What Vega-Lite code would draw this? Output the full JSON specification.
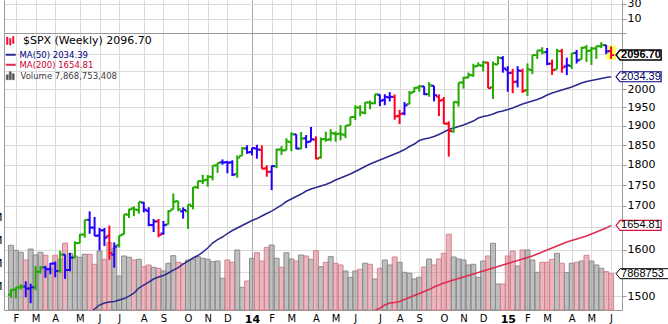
{
"$schema":"https://vega.github.io/schema/vega-lite/v6.json",
"width":618,"height":310,
"autosize":{"type":"none"},
"padding":{"left":4,"top":0,"right":46,"bottom":14},
"background":"white",
"config":{"view":{"stroke":null},"font":"DejaVu Sans"},
"data":{"values":[
{"d":"2013-01-28","o":1502.96,"h":1514.41,"l":1496.33,"c":1513.17,"k":"G","v":14.01,"vd":"up","m5":null,"m2":null},
{"d":"2013-02-04","o":1513.17,"h":1518.31,"l":1495.02,"c":1517.93,"k":"G","v":12.93,"vd":"up","m5":null,"m2":null},
{"d":"2013-02-11","o":1517.93,"h":1524.69,"l":1513.61,"c":1519.79,"k":"G","v":12.50,"vd":"up","m5":null,"m2":null},
{"d":"2013-02-18","o":1519.79,"h":1530.94,"l":1497.29,"c":1515.60,"k":"B","v":10.83,"vd":"down","m5":null,"m2":null},
{"d":"2013-02-25","o":1515.60,"h":1525.84,"l":1485.01,"c":1518.20,"k":"B","v":13.21,"vd":"up","m5":null,"m2":null},
{"d":"2013-03-04","o":1518.20,"h":1563.62,"l":1512.29,"c":1551.18,"k":"G","v":11.91,"vd":"up","m5":null,"m2":null},
{"d":"2013-03-11","o":1551.18,"h":1563.62,"l":1547.36,"c":1560.70,"k":"G","v":12.50,"vd":"up","m5":null,"m2":null},
{"d":"2013-03-18","o":1560.70,"h":1564.24,"l":1538.57,"c":1556.89,"k":"B","v":11.85,"vd":"down","m5":null,"m2":null},
{"d":"2013-03-25","o":1556.89,"h":1570.28,"l":1546.22,"c":1569.19,"k":"B","v":9.03,"vd":"up","m5":null,"m2":null},
{"d":"2013-04-01","o":1569.18,"h":1573.66,"l":1539.50,"c":1553.28,"k":"B","v":11.85,"vd":"down","m5":null,"m2":null},
{"d":"2013-04-08","o":1553.28,"h":1597.35,"l":1548.63,"c":1588.85,"k":"G","v":10.98,"vd":"up","m5":null,"m2":null},
{"d":"2013-04-15","o":1588.85,"h":1588.85,"l":1536.03,"c":1555.25,"k":"B","v":14.51,"vd":"down","m5":null,"m2":null},
{"d":"2013-04-22","o":1555.25,"h":1592.64,"l":1552.56,"c":1582.24,"k":"B","v":12.28,"vd":"up","m5":null,"m2":null},
{"d":"2013-04-29","o":1582.24,"h":1618.46,"l":1581.28,"c":1614.42,"k":"G","v":11.70,"vd":"up","m5":null,"m2":null},
{"d":"2013-05-06","o":1614.40,"h":1635.01,"l":1614.40,"c":1633.70,"k":"G","v":11.42,"vd":"up","m5":null,"m2":null},
{"d":"2013-05-13","o":1633.70,"h":1667.47,"l":1626.74,"c":1667.47,"k":"G","v":12.07,"vd":"up","m5":null,"m2":null},
{"d":"2013-05-20","o":1667.47,"h":1687.18,"l":1635.53,"c":1649.60,"k":"B","v":12.07,"vd":"down","m5":1465.0,"m2":null},
{"d":"2013-05-27","o":1649.60,"h":1674.21,"l":1630.74,"c":1630.74,"k":"B","v":9.90,"vd":"down","m5":1473.1,"m2":null},
{"d":"2013-06-03","o":1631.71,"h":1648.69,"l":1598.23,"c":1643.38,"k":"B","v":12.78,"vd":"up","m5":1481.3,"m2":null},
{"d":"2013-06-10","o":1643.38,"h":1648.69,"l":1608.07,"c":1626.73,"k":"B","v":10.98,"vd":"down","m5":1485.4,"m2":null},
{"d":"2013-06-17","o":1630.64,"h":1654.19,"l":1577.70,"c":1592.43,"k":"R","v":14.58,"vd":"down","m5":1487.5,"m2":null},
{"d":"2013-06-24","o":1588.77,"h":1615.94,"l":1560.33,"c":1606.28,"k":"B","v":13.36,"vd":"up","m5":1488.5,"m2":null},
{"d":"2013-07-01","o":1609.78,"h":1631.89,"l":1604.57,"c":1631.89,"k":"G","v":7.36,"vd":"up","m5":1491.6,"m2":null},
{"d":"2013-07-08","o":1634.20,"h":1680.19,"l":1634.20,"c":1680.19,"k":"G","v":11.70,"vd":"up","m5":1494.7,"m2":null},
{"d":"2013-07-15","o":1679.59,"h":1693.12,"l":1671.84,"c":1692.09,"k":"G","v":11.42,"vd":"up","m5":1499.9,"m2":null},
{"d":"2013-07-22","o":1694.41,"h":1698.78,"l":1676.03,"c":1691.65,"k":"G","v":10.83,"vd":"down","m5":1506.2,"m2":null},
{"d":"2013-07-29","o":1690.32,"h":1709.67,"l":1681.86,"c":1709.67,"k":"G","v":10.98,"vd":"up","m5":1516.7,"m2":null},
{"d":"2013-08-05","o":1708.01,"h":1709.24,"l":1684.91,"c":1691.42,"k":"B","v":9.38,"vd":"down","m5":1523.0,"m2":null},
{"d":"2013-08-12","o":1688.37,"h":1696.81,"l":1652.61,"c":1655.83,"k":"B","v":9.75,"vd":"down","m5":1529.4,"m2":null},
{"d":"2013-08-19","o":1655.25,"h":1669.51,"l":1639.43,"c":1663.50,"k":"B","v":9.25,"vd":"up","m5":1535.8,"m2":null},
{"d":"2013-08-26","o":1664.29,"h":1669.51,"l":1627.47,"c":1632.97,"k":"R","v":9.03,"vd":"down","m5":1540.1,"m2":null},
{"d":"2013-09-02","o":1635.95,"h":1664.83,"l":1633.41,"c":1655.17,"k":"B","v":8.45,"vd":"up","m5":1543.3,"m2":null},
{"d":"2013-09-09","o":1656.85,"h":1689.97,"l":1656.85,"c":1687.99,"k":"G","v":10.12,"vd":"up","m5":1548.7,"m2":null},
{"d":"2013-09-16","o":1691.70,"h":1729.86,"l":1691.70,"c":1709.91,"k":"G","v":11.76,"vd":"up","m5":1555.1,"m2":null},
{"d":"2013-09-23","o":1711.44,"h":1711.44,"l":1687.11,"c":1691.75,"k":"G","v":10.33,"vd":"down","m5":1560.5,"m2":null},
{"d":"2013-09-30","o":1687.26,"h":1696.55,"l":1670.36,"c":1690.50,"k":"B","v":10.12,"vd":"down","m5":1568.2,"m2":null},
{"d":"2013-10-07","o":1687.15,"h":1703.44,"l":1646.47,"c":1703.20,"k":"G","v":10.83,"vd":"up","m5":1574.7,"m2":null},
{"d":"2013-10-14","o":1699.86,"h":1745.31,"l":1692.13,"c":1744.50,"k":"G","v":10.98,"vd":"up","m5":1581.3,"m2":null},
{"d":"2013-10-21","o":1745.20,"h":1759.82,"l":1740.50,"c":1759.77,"k":"G","v":11.55,"vd":"up","m5":1586.8,"m2":null},
{"d":"2013-10-28","o":1759.42,"h":1775.22,"l":1752.70,"c":1761.64,"k":"G","v":11.20,"vd":"up","m5":1594.5,"m2":null},
{"d":"2013-11-04","o":1762.97,"h":1774.54,"l":1746.20,"c":1770.61,"k":"G","v":10.98,"vd":"up","m5":1603.4,"m2":null},
{"d":"2013-11-11","o":1769.96,"h":1798.22,"l":1761.56,"c":1798.18,"k":"G","v":10.46,"vd":"up","m5":1614.6,"m2":null},
{"d":"2013-11-18","o":1798.82,"h":1804.84,"l":1780.02,"c":1804.76,"k":"G","v":10.61,"vd":"up","m5":1622.5,"m2":null},
{"d":"2013-11-25","o":1806.33,"h":1813.55,"l":1800.32,"c":1805.81,"k":"B","v":6.87,"vd":"up","m5":1628.1,"m2":null},
{"d":"2013-12-02","o":1806.55,"h":1810.02,"l":1779.09,"c":1805.09,"k":"B","v":10.83,"vd":"down","m5":1636.1,"m2":null},
{"d":"2013-12-09","o":1806.21,"h":1811.52,"l":1772.28,"c":1775.32,"k":"B","v":10.33,"vd":"down","m5":1642.9,"m2":null},
{"d":"2013-12-16","o":1777.48,"h":1823.75,"l":1767.99,"c":1818.32,"k":"G","v":13.00,"vd":"up","m5":1648.6,"m2":null},
{"d":"2013-12-23","o":1822.92,"h":1844.89,"l":1822.92,"c":1841.40,"k":"G","v":4.92,"vd":"up","m5":1654.4,"m2":null},
{"d":"2013-12-30","o":1841.47,"h":1849.44,"l":1827.74,"c":1831.37,"k":"B","v":6.28,"vd":"down","m5":1660.1,"m2":null},
{"d":"2014-01-06","o":1832.31,"h":1843.23,"l":1823.73,"c":1842.37,"k":"B","v":11.20,"vd":"up","m5":1665.9,"m2":null},
{"d":"2014-01-13","o":1841.26,"h":1850.84,"l":1815.52,"c":1838.70,"k":"B","v":12.41,"vd":"down","m5":1670.5,"m2":null},
{"d":"2014-01-20","o":1837.92,"h":1849.31,"l":1790.29,"c":1790.29,"k":"R","v":10.61,"vd":"down","m5":1676.4,"m2":null},
{"d":"2014-01-27","o":1791.03,"h":1798.77,"l":1770.45,"c":1782.59,"k":"R","v":13.58,"vd":"down","m5":1682.2,"m2":null},
{"d":"2014-02-03","o":1782.68,"h":1798.03,"l":1737.92,"c":1797.02,"k":"B","v":14.08,"vd":"up","m5":1688.0,"m2":null},
{"d":"2014-02-10","o":1796.20,"h":1840.76,"l":1791.65,"c":1838.63,"k":"G","v":11.20,"vd":"up","m5":1695.1,"m2":null},
{"d":"2014-02-17","o":1838.76,"h":1847.50,"l":1824.58,"c":1836.25,"k":"G","v":9.25,"vd":"down","m5":1702.2,"m2":null},
{"d":"2014-02-24","o":1836.78,"h":1867.92,"l":1836.78,"c":1859.45,"k":"G","v":12.41,"vd":"up","m5":1710.5,"m2":null},
{"d":"2014-03-03","o":1857.68,"h":1883.57,"l":1834.44,"c":1878.04,"k":"G","v":11.05,"vd":"up","m5":1716.4,"m2":null},
{"d":"2014-03-10","o":1877.86,"h":1877.87,"l":1839.57,"c":1841.13,"k":"B","v":10.61,"vd":"down","m5":1722.4,"m2":null},
{"d":"2014-03-17","o":1841.07,"h":1883.97,"l":1839.49,"c":1866.52,"k":"G","v":11.91,"vd":"up","m5":1728.4,"m2":null},
{"d":"2014-03-24","o":1867.67,"h":1875.92,"l":1842.11,"c":1857.62,"k":"B","v":11.70,"vd":"down","m5":1735.6,"m2":null},
{"d":"2014-03-31","o":1859.16,"h":1897.28,"l":1859.16,"c":1865.09,"k":"B","v":10.98,"vd":"up","m5":1740.5,"m2":null},
{"d":"2014-04-07","o":1863.92,"h":1872.53,"l":1814.36,"c":1815.69,"k":"R","v":12.85,"vd":"down","m5":1744.1,"m2":null},
{"d":"2014-04-14","o":1818.18,"h":1869.63,"l":1815.80,"c":1864.85,"k":"G","v":9.38,"vd":"up","m5":1747.7,"m2":null},
{"d":"2014-04-21","o":1865.79,"h":1884.89,"l":1858.71,"c":1863.40,"k":"G","v":10.33,"vd":"down","m5":1751.4,"m2":null},
{"d":"2014-04-28","o":1865.00,"h":1891.33,"l":1859.79,"c":1881.14,"k":"G","v":11.55,"vd":"up","m5":1756.3,"m2":null},
{"d":"2014-05-05","o":1879.45,"h":1885.51,"l":1859.02,"c":1878.48,"k":"G","v":10.12,"vd":"down","m5":1762.4,"m2":null},
{"d":"2014-05-12","o":1880.03,"h":1902.17,"l":1862.36,"c":1877.86,"k":"G","v":9.75,"vd":"down","m5":1767.3,"m2":null},
{"d":"2014-05-19","o":1876.66,"h":1901.26,"l":1868.14,"c":1900.53,"k":"G","v":8.45,"vd":"up","m5":1772.2,"m2":null},
{"d":"2014-05-26","o":1902.01,"h":1924.03,"l":1902.01,"c":1923.57,"k":"G","v":7.08,"vd":"up","m5":1777.1,"m2":null},
{"d":"2014-06-02","o":1923.87,"h":1955.55,"l":1915.98,"c":1949.44,"k":"G","v":8.45,"vd":"up","m5":1783.3,"m2":null},
{"d":"2014-06-09","o":1948.97,"h":1955.59,"l":1925.78,"c":1936.16,"k":"G","v":8.82,"vd":"down","m5":1789.5,"m2":null},
{"d":"2014-06-16","o":1934.84,"h":1963.91,"l":1930.91,"c":1962.87,"k":"G","v":10.12,"vd":"up","m5":1795.8,"m2":null},
{"d":"2014-06-23","o":1962.92,"h":1968.17,"l":1944.69,"c":1960.96,"k":"G","v":9.90,"vd":"down","m5":1802.0,"m2":null},
{"d":"2014-06-30","o":1960.79,"h":1985.59,"l":1958.22,"c":1985.44,"k":"G","v":6.71,"vd":"up","m5":1807.0,"m2":1470.0},
{"d":"2014-07-07","o":1984.22,"h":1984.22,"l":1952.86,"c":1967.57,"k":"B","v":9.03,"vd":"down","m5":1812.1,"m2":1475.1},
{"d":"2014-07-14","o":1969.86,"h":1985.59,"l":1955.59,"c":1978.22,"k":"B","v":10.83,"vd":"up","m5":1817.1,"m2":1481.3},
{"d":"2014-07-21","o":1976.93,"h":1991.39,"l":1965.77,"c":1978.34,"k":"B","v":9.75,"vd":"up","m5":1822.2,"m2":1485.4},
{"d":"2014-07-28","o":1978.25,"h":1984.85,"l":1916.37,"c":1925.15,"k":"R","v":11.48,"vd":"down","m5":1827.2,"m2":1486.4},
{"d":"2014-08-04","o":1926.62,"h":1942.92,"l":1904.78,"c":1931.59,"k":"R","v":10.33,"vd":"up","m5":1832.3,"m2":1488.5},
{"d":"2014-08-11","o":1933.43,"h":1964.04,"l":1928.29,"c":1955.06,"k":"B","v":8.17,"vd":"up","m5":1838.7,"m2":1492.6},
{"d":"2014-08-18","o":1958.36,"h":1994.76,"l":1958.36,"c":1988.40,"k":"G","v":7.95,"vd":"up","m5":1846.4,"m2":1496.8},
{"d":"2014-08-25","o":1991.74,"h":2005.04,"l":1990.52,"c":2003.37,"k":"G","v":6.71,"vd":"up","m5":1852.8,"m2":1501.0},
{"d":"2014-09-01","o":2004.07,"h":2011.17,"l":1992.44,"c":2007.71,"k":"G","v":7.08,"vd":"up","m5":1861.8,"m2":1505.2},
{"d":"2014-09-08","o":2007.17,"h":2007.71,"l":1983.54,"c":1985.54,"k":"B","v":9.31,"vd":"down","m5":1865.7,"m2":1509.4},
{"d":"2014-09-15","o":1986.04,"h":2019.26,"l":1978.48,"c":2010.40,"k":"G","v":11.05,"vd":"up","m5":1868.3,"m2":1513.5},
{"d":"2014-09-22","o":2009.08,"h":2009.08,"l":1965.99,"c":1982.85,"k":"B","v":9.75,"vd":"down","m5":1872.2,"m2":1518.8},
{"d":"2014-09-29","o":1978.96,"h":1985.17,"l":1926.03,"c":1967.90,"k":"R","v":11.05,"vd":"down","m5":1877.4,"m2":1523.0},
{"d":"2014-10-06","o":1970.01,"h":1977.84,"l":1905.03,"c":1906.13,"k":"R","v":12.28,"vd":"down","m5":1884.0,"m2":1527.3},
{"d":"2014-10-13","o":1905.65,"h":1912.09,"l":1820.66,"c":1886.76,"k":"R","v":16.40,"vd":"down","m5":1890.5,"m2":1530.5},
{"d":"2014-10-20","o":1885.62,"h":1965.27,"l":1882.30,"c":1964.58,"k":"G","v":11.48,"vd":"up","m5":1894.5,"m2":1533.7},
{"d":"2014-10-27","o":1962.97,"h":2018.19,"l":1951.37,"c":2018.05,"k":"G","v":11.05,"vd":"up","m5":1898.4,"m2":1536.9},
{"d":"2014-11-03","o":2018.21,"h":2034.26,"l":2001.01,"c":2031.92,"k":"G","v":10.83,"vd":"up","m5":1902.4,"m2":1540.1},
{"d":"2014-11-10","o":2032.01,"h":2046.18,"l":2030.44,"c":2039.82,"k":"G","v":9.75,"vd":"up","m5":1907.7,"m2":1543.3},
{"d":"2014-11-17","o":2038.29,"h":2071.46,"l":2034.46,"c":2063.50,"k":"G","v":9.90,"vd":"up","m5":1913.0,"m2":1546.5},
{"d":"2014-11-24","o":2065.07,"h":2075.76,"l":2064.75,"c":2067.56,"k":"G","v":7.08,"vd":"up","m5":1921.0,"m2":1549.7},
{"d":"2014-12-01","o":2065.78,"h":2079.47,"l":2049.57,"c":2075.37,"k":"G","v":10.61,"vd":"up","m5":1925.0,"m2":1553.0},
{"d":"2014-12-08","o":2074.84,"h":2075.78,"l":2002.33,"c":2002.33,"k":"R","v":11.70,"vd":"down","m5":1927.7,"m2":1556.2},
{"d":"2014-12-15","o":2005.03,"h":2077.85,"l":1972.56,"c":2070.65,"k":"G","v":14.45,"vd":"up","m5":1931.7,"m2":1559.5},
{"d":"2014-12-22","o":2069.46,"h":2093.55,"l":2069.46,"c":2088.77,"k":"G","v":5.63,"vd":"up","m5":1937.1,"m2":1562.7},
{"d":"2014-12-29","o":2087.63,"h":2093.55,"l":2046.04,"c":2058.20,"k":"B","v":5.63,"vd":"down","m5":1939.8,"m2":1566.0},
{"d":"2015-01-05","o":2054.44,"h":2064.43,"l":1992.44,"c":2044.81,"k":"B","v":11.70,"vd":"down","m5":1943.8,"m2":1569.2},
{"d":"2015-01-12","o":2046.13,"h":2056.93,"l":1988.12,"c":2019.42,"k":"R","v":12.78,"vd":"down","m5":1947.9,"m2":1572.5},
{"d":"2015-01-19","o":2020.76,"h":2064.62,"l":2004.49,"c":2051.82,"k":"B","v":9.53,"vd":"up","m5":1953.3,"m2":1575.8},
{"d":"2015-01-26","o":2050.42,"h":2057.62,"l":1989.18,"c":1994.99,"k":"R","v":13.00,"vd":"down","m5":1958.7,"m2":1579.1},
{"d":"2015-02-02","o":1996.67,"h":2072.40,"l":1980.90,"c":2055.47,"k":"G","v":13.00,"vd":"up","m5":1962.8,"m2":1582.4},
{"d":"2015-02-09","o":2053.47,"h":2097.03,"l":2041.88,"c":2096.99,"k":"G","v":10.83,"vd":"up","m5":1966.9,"m2":1585.7},
{"d":"2015-02-16","o":2096.47,"h":2110.61,"l":2085.44,"c":2110.30,"k":"G","v":8.17,"vd":"up","m5":1971.0,"m2":1590.1},
{"d":"2015-02-23","o":2109.83,"h":2119.59,"l":2098.69,"c":2104.50,"k":"G","v":10.33,"vd":"down","m5":1976.5,"m2":1594.5},
{"d":"2015-03-02","o":2105.23,"h":2117.52,"l":2067.27,"c":2071.26,"k":"B","v":10.33,"vd":"down","m5":1983.4,"m2":1599.0},
{"d":"2015-03-09","o":2072.25,"h":2083.49,"l":2039.69,"c":2053.40,"k":"R","v":10.98,"vd":"down","m5":1988.9,"m2":1603.4},
{"d":"2015-03-16","o":2055.35,"h":2114.86,"l":2055.35,"c":2108.10,"k":"G","v":12.28,"vd":"up","m5":1993.1,"m2":1607.9},
{"d":"2015-03-23","o":2107.99,"h":2114.86,"l":2045.79,"c":2061.02,"k":"R","v":10.12,"vd":"down","m5":1997.2,"m2":1612.4},
{"d":"2015-03-30","o":2064.11,"h":2088.97,"l":2039.12,"c":2066.96,"k":"B","v":8.08,"vd":"up","m5":2001.4,"m2":1616.9},
{"d":"2015-04-06","o":2064.87,"h":2102.61,"l":2056.76,"c":2102.06,"k":"G","v":10.12,"vd":"up","m5":2005.6,"m2":1620.2},
{"d":"2015-04-13","o":2102.94,"h":2111.91,"l":2072.17,"c":2081.18,"k":"B","v":10.33,"vd":"down","m5":2011.2,"m2":1623.6},
{"d":"2015-04-20","o":2084.11,"h":2120.92,"l":2084.11,"c":2117.69,"k":"G","v":10.61,"vd":"up","m5":2016.7,"m2":1627.0},
{"d":"2015-04-27","o":2119.29,"h":2125.92,"l":2077.00,"c":2108.29,"k":"G","v":11.85,"vd":"down","m5":2021.0,"m2":1630.4},
{"d":"2015-05-04","o":2110.23,"h":2120.95,"l":2067.93,"c":2116.10,"k":"G","v":10.61,"vd":"up","m5":2023.8,"m2":1635.0},
{"d":"2015-05-11","o":2115.56,"h":2123.89,"l":2085.65,"c":2122.73,"k":"G","v":9.75,"vd":"up","m5":2026.6,"m2":1639.5},
{"d":"2015-05-18","o":2122.27,"h":2134.72,"l":2117.00,"c":2126.06,"k":"G","v":9.03,"vd":"up","m5":2029.4,"m2":1644.1},
{"d":"2015-05-25","o":2125.34,"h":2126.22,"l":2099.18,"c":2107.39,"k":"B","v":8.30,"vd":"down","m5":2032.2,"m2":1648.6},
{"d":"2015-06-01","o":2108.64,"h":2121.92,"l":2085.67,"c":2096.70,"k":"R","v":7.8688,"vd":"down","m5":2034.39,"m2":1654.81}
]},
"encoding":{"x":{"field":"d","type":"temporal",
  "scale":{"type":"utc","domain":[{"year":2013,"month":1,"date":25,"hours":5,"utc":true},{"year":2015,"month":6,"date":9,"hours":10,"utc":true}]},
  "axis":{"orient":"bottom","title":null,"ticks":false,"domain":true,"domainColor":"#999999","labelPadding":3,"labelOverlap":false,"labelFlush":false,
    "values":[{"year":2013,"month":2,"date":4,"utc":true},{"year":2013,"month":3,"date":4,"utc":true},{"year":2013,"month":4,"date":1,"utc":true},{"year":2013,"month":5,"date":6,"utc":true},{"year":2013,"month":6,"date":3,"utc":true},{"year":2013,"month":7,"date":1,"utc":true},{"year":2013,"month":8,"date":5,"utc":true},{"year":2013,"month":9,"date":2,"utc":true},{"year":2013,"month":10,"date":7,"utc":true},{"year":2013,"month":11,"date":4,"utc":true},{"year":2013,"month":12,"date":2,"utc":true},
      {"year":2014,"month":1,"date":6,"utc":true},{"year":2014,"month":2,"date":3,"utc":true},{"year":2014,"month":3,"date":3,"utc":true},{"year":2014,"month":4,"date":7,"utc":true},{"year":2014,"month":5,"date":5,"utc":true},{"year":2014,"month":6,"date":2,"utc":true},{"year":2014,"month":7,"date":7,"utc":true},{"year":2014,"month":8,"date":4,"utc":true},{"year":2014,"month":9,"date":1,"utc":true},{"year":2014,"month":10,"date":6,"utc":true},{"year":2014,"month":11,"date":3,"utc":true},{"year":2014,"month":12,"date":1,"utc":true},
      {"year":2015,"month":1,"date":5,"utc":true},{"year":2015,"month":2,"date":2,"utc":true},{"year":2015,"month":3,"date":2,"utc":true},{"year":2015,"month":4,"date":6,"utc":true},{"year":2015,"month":5,"date":4,"utc":true},{"year":2015,"month":6,"date":1,"utc":true}],
    "labelExpr":"utcmonth(datum.value) == 0 ? utcFormat(datum.value, '%y') : substring(utcFormat(datum.value, '%b'), 0, 1)",
    "labelFontWeight":{"condition":{"test":"utcmonth(datum.value) == 0","value":"bold"},"value":"normal"},
    "labelFontSize":{"condition":{"test":"utcmonth(datum.value) == 0","value":11},"value":10},
    "labelColor":"#000000","labelFont":"DejaVu Sans",
    "grid":true,"gridColor":{"condition":{"test":"utcmonth(datum.value) == 0","value":"#a8a8a8"},"value":"#dadada"}}}},
"layer":[
 {"layer":[
   {"mark":{"type":"bar","width":5,"fillOpacity":0.5,"strokeWidth":1},
    "encoding":{
     "y":{"field":"v","type":"quantitative","scale":{"domain":[0,67.148],"nice":false,"zero":true},
       "axis":{"orient":"left","title":null,"values":[5,10,15,20],"grid":false,"ticks":false,"domain":true,"domainColor":"#999999","labelPadding":2,"labelFontSize":11,"labelColor":"#000000","labelExpr":"datum.value + 'M'"}},
     "fill":{"field":"vd","type":"nominal","scale":{"domain":["up","down"],"range":["#7f7f7f","#d8707f"]},"legend":null},
     "stroke":{"field":"vd","type":"nominal","scale":{"domain":["up","down"],"range":["#8c8c8c","#d4838f"]},"legend":null}}},
   {"transform":[{"filter":"utcyear(datum.d) == 2015 && utcmonth(datum.d) == 5"}],
    "mark":{"type":"point","shape":"M1,0L1.8,-1L12,-1L12,1L1.8,1Z","size":100,"filled":true,"fill":"#ffffff","stroke":"#000000","strokeWidth":1,"opacity":1},
    "encoding":{"y":{"field":"v","type":"quantitative","scale":{"domain":[0,67.148],"nice":false,"zero":true},
       "axis":{"orient":"left","title":null,"values":[5,10,15,20],"grid":false,"ticks":false,"domain":true,"domainColor":"#999999","labelPadding":2,"labelFontSize":11,"labelColor":"#000000","labelExpr":"datum.value + 'M'"}}}},
   {"transform":[{"filter":"utcyear(datum.d) == 2015 && utcmonth(datum.d) == 5"}],
    "mark":{"type":"text","text":"7868753","dx":10,"align":"left","baseline":"middle","font":"Liberation Sans","fontSize":11,"color":"#000000"},
    "encoding":{"y":{"field":"v","type":"quantitative","scale":{"domain":[0,67.148],"nice":false,"zero":true},
       "axis":{"orient":"left","title":null,"values":[5,10,15,20],"grid":false,"ticks":false,"domain":true,"domainColor":"#999999","labelPadding":2,"labelFontSize":11,"labelColor":"#000000","labelExpr":"datum.value + 'M'"}}}}
 ]},
 {"layer":[
   {"transform":[{"filter":"utcyear(datum.d) == 2015 && utcmonth(datum.d) == 5"}],
    "mark":{"type":"bar","width":8,"color":"#ffff66","stroke":"#ffff66","strokeWidth":2},
    "encoding":{"y":{"field":"h","type":"quantitative","scale":{"type":"log","domain":[1471.1,2263.4],"nice":false,"zero":false},
       "axis":{"orient":"right","title":null,"values":[1500,1550,1600,1650,1700,1750,1800,1850,1900,1950,2000,2050,2100],"format":"d","labelExpr":"indexof([1550,1650,2050,2100], datum.value) >= 0 ? '' : datum.label","grid":true,"gridColor":"#dadada","domain":true,"domainColor":"#999999","tickSize":4,"tickColor":"#999999","labelPadding":1,"labelFont":"DejaVu Sans","labelFontSize":11,"labelColor":"#000000"}},
     "y2":{"field":"l"}}},
   {"transform":[{"fold":["m5","m2"],"as":["key","val"]}],
    "mark":{"type":"line","strokeWidth":1.5,"clip":true},
    "encoding":{"y":{"field":"val","type":"quantitative","scale":{"type":"log","domain":[1471.1,2263.4],"nice":false,"zero":false},
       "axis":{"orient":"right","title":null,"values":[1500,1550,1600,1650,1700,1750,1800,1850,1900,1950,2000,2050,2100],"format":"d","labelExpr":"indexof([1550,1650,2050,2100], datum.value) >= 0 ? '' : datum.label","grid":true,"gridColor":"#dadada","domain":true,"domainColor":"#999999","tickSize":4,"tickColor":"#999999","labelPadding":1,"labelFont":"DejaVu Sans","labelFontSize":11,"labelColor":"#000000"}},
     "color":{"field":"key","type":"nominal","scale":{"domain":["px","m5","m2","vol"],"range":["#ee1133","#2b2b8c","#e0294f","#555555"]},
       "legend":{"orient":"none","legendX":2.5,"legendY":36.5,"title":null,"padding":0,"offset":0,"rowPadding":1,"labelOffset":4.5,"symbolSize":100,"symbolStrokeWidth":2,"symbolType":"stroke","labelFont":"DejaVu Sans","labelFontSize":8.5,"labelLimit":400,
        "labelExpr":"datum.label == 'px' ? '$SPX (Weekly) 2096.70' : datum.label == 'm5' ? 'MA(50) 2034.39' : datum.label == 'm2' ? 'MA(200) 1654.81' : 'Volume 7,868,753,408'",
        "encode":{
          "labels":{"update":{"fill":{"signal":"datum.index == 0 ? '#000000' : datum.index == 1 ? '#000080' : datum.index == 2 ? '#cc0033' : '#404040'"},"fontSize":{"signal":"datum.index == 0 ? 11 : 8.5"},"dx":{"signal":"datum.index == 0 ? 3.4 : datum.index == 3 ? 1 : 0"}}},
          "symbols":{"update":{"shape":{"signal":"datum.index == 0 ? 'M-0.7,-0.8L-0.7,0.8M-0.1,-0.5L-0.1,0.9M0.5,-0.9L0.5,0.6' : datum.index == 3 ? 'M-0.9,0.8L-0.9,-0.2L-0.5,-0.2L-0.5,0.8ZM-0.3,0.8L-0.3,-0.8L0.1,-0.8L0.1,0.8ZM0.3,0.8L0.3,-0.4L0.7,-0.4L0.7,0.8Z' : 'stroke'"},"fill":{"signal":"datum.index == 3 ? '#555555' : 'transparent'"},"strokeWidth":{"signal":"datum.index == 3 ? 0.5 : 2"}}}
        }}}}},
   {"mark":{"type":"rule","strokeWidth":2},
    "encoding":{"y":{"field":"l","type":"quantitative","scale":{"type":"log","domain":[1471.1,2263.4],"nice":false,"zero":false},
       "axis":{"orient":"right","title":null,"values":[1500,1550,1600,1650,1700,1750,1800,1850,1900,1950,2000,2050,2100],"format":"d","labelExpr":"indexof([1550,1650,2050,2100], datum.value) >= 0 ? '' : datum.label","grid":true,"gridColor":"#dadada","domain":true,"domainColor":"#999999","tickSize":4,"tickColor":"#999999","labelPadding":1,"labelFont":"DejaVu Sans","labelFontSize":11,"labelColor":"#000000"}},
     "y2":{"field":"h"},
     "stroke":{"field":"k","type":"nominal","scale":{"domain":["G","B","R"],"range":["#22aa00","#2200ff","#ff0022"]},"legend":null}}},
   {"mark":{"type":"point","shape":"M-1,0L0,0","size":36,"filled":false,"strokeWidth":2,"opacity":1},
    "encoding":{"y":{"field":"o","type":"quantitative","scale":{"type":"log","domain":[1471.1,2263.4],"nice":false,"zero":false},
       "axis":{"orient":"right","title":null,"values":[1500,1550,1600,1650,1700,1750,1800,1850,1900,1950,2000,2050,2100],"format":"d","labelExpr":"indexof([1550,1650,2050,2100], datum.value) >= 0 ? '' : datum.label","grid":true,"gridColor":"#dadada","domain":true,"domainColor":"#999999","tickSize":4,"tickColor":"#999999","labelPadding":1,"labelFont":"DejaVu Sans","labelFontSize":11,"labelColor":"#000000"}},
     "stroke":{"field":"k","type":"nominal","scale":{"domain":["G","B","R"],"range":["#22aa00","#2200ff","#ff0022"]},"legend":null}}},
   {"mark":{"type":"point","shape":"M0,0L1,0","size":36,"filled":false,"strokeWidth":2,"opacity":1},
    "encoding":{"y":{"field":"c","type":"quantitative","scale":{"type":"log","domain":[1471.1,2263.4],"nice":false,"zero":false},
       "axis":{"orient":"right","title":null,"values":[1500,1550,1600,1650,1700,1750,1800,1850,1900,1950,2000,2050,2100],"format":"d","labelExpr":"indexof([1550,1650,2050,2100], datum.value) >= 0 ? '' : datum.label","grid":true,"gridColor":"#dadada","domain":true,"domainColor":"#999999","tickSize":4,"tickColor":"#999999","labelPadding":1,"labelFont":"DejaVu Sans","labelFontSize":11,"labelColor":"#000000"}},
     "stroke":{"field":"k","type":"nominal","scale":{"domain":["G","B","R"],"range":["#22aa00","#2200ff","#ff0022"]},"legend":null}}},
   {"transform":[{"filter":"utcyear(datum.d) == 2015 && utcmonth(datum.d) == 5"}],
    "mark":{"type":"point","shape":"M1,0L1.8,-1L10,-1L10,1L1.8,1Z","size":100,"filled":true,"fill":"#ffffff","stroke":"#000000","strokeWidth":1.5,"opacity":1},
    "encoding":{"y":{"field":"c","type":"quantitative","scale":{"type":"log","domain":[1471.1,2263.4],"nice":false,"zero":false},
       "axis":{"orient":"right","title":null,"values":[1500,1550,1600,1650,1700,1750,1800,1850,1900,1950,2000,2050,2100],"format":"d","labelExpr":"indexof([1550,1650,2050,2100], datum.value) >= 0 ? '' : datum.label","grid":true,"gridColor":"#dadada","domain":true,"domainColor":"#999999","tickSize":4,"tickColor":"#999999","labelPadding":1,"labelFont":"DejaVu Sans","labelFontSize":11,"labelColor":"#000000"}}}},
   {"transform":[{"filter":"utcyear(datum.d) == 2015 && utcmonth(datum.d) == 5"}],
    "mark":{"type":"text","dx":10,"align":"left","baseline":"middle","font":"Liberation Sans","fontSize":11,"fontWeight":"bold","color":"#000000"},
    "encoding":{"y":{"field":"c","type":"quantitative","scale":{"type":"log","domain":[1471.1,2263.4],"nice":false,"zero":false},
       "axis":{"orient":"right","title":null,"values":[1500,1550,1600,1650,1700,1750,1800,1850,1900,1950,2000,2050,2100],"format":"d","labelExpr":"indexof([1550,1650,2050,2100], datum.value) >= 0 ? '' : datum.label","grid":true,"gridColor":"#dadada","domain":true,"domainColor":"#999999","tickSize":4,"tickColor":"#999999","labelPadding":1,"labelFont":"DejaVu Sans","labelFontSize":11,"labelColor":"#000000"}},"text":{"field":"c","type":"quantitative","format":".2f"}}},
   {"transform":[{"filter":"utcyear(datum.d) == 2015 && utcmonth(datum.d) == 5"}],
    "mark":{"type":"point","shape":"M1,0L1.8,-1L10,-1L10,1L1.8,1Z","size":100,"filled":true,"fill":"#ffffff","stroke":"#000080","strokeWidth":1.2,"opacity":1},
    "encoding":{"y":{"field":"m5","type":"quantitative","scale":{"type":"log","domain":[1471.1,2263.4],"nice":false,"zero":false},
       "axis":{"orient":"right","title":null,"values":[1500,1550,1600,1650,1700,1750,1800,1850,1900,1950,2000,2050,2100],"format":"d","labelExpr":"indexof([1550,1650,2050,2100], datum.value) >= 0 ? '' : datum.label","grid":true,"gridColor":"#dadada","domain":true,"domainColor":"#999999","tickSize":4,"tickColor":"#999999","labelPadding":1,"labelFont":"DejaVu Sans","labelFontSize":11,"labelColor":"#000000"}}}},
   {"transform":[{"filter":"utcyear(datum.d) == 2015 && utcmonth(datum.d) == 5"}],
    "mark":{"type":"text","dx":10,"align":"left","baseline":"middle","font":"Liberation Sans","fontSize":11,"color":"#000060"},
    "encoding":{"y":{"field":"m5","type":"quantitative","scale":{"type":"log","domain":[1471.1,2263.4],"nice":false,"zero":false},
       "axis":{"orient":"right","title":null,"values":[1500,1550,1600,1650,1700,1750,1800,1850,1900,1950,2000,2050,2100],"format":"d","labelExpr":"indexof([1550,1650,2050,2100], datum.value) >= 0 ? '' : datum.label","grid":true,"gridColor":"#dadada","domain":true,"domainColor":"#999999","tickSize":4,"tickColor":"#999999","labelPadding":1,"labelFont":"DejaVu Sans","labelFontSize":11,"labelColor":"#000000"}},"text":{"field":"m5","type":"quantitative","format":".2f"}}},
   {"transform":[{"filter":"utcyear(datum.d) == 2015 && utcmonth(datum.d) == 5"}],
    "mark":{"type":"point","shape":"M1,0L1.8,-1L10,-1L10,1L1.8,1Z","size":100,"filled":true,"fill":"#ffffff","stroke":"#dd1144","strokeWidth":1.2,"opacity":1},
    "encoding":{"y":{"field":"m2","type":"quantitative","scale":{"type":"log","domain":[1471.1,2263.4],"nice":false,"zero":false},
       "axis":{"orient":"right","title":null,"values":[1500,1550,1600,1650,1700,1750,1800,1850,1900,1950,2000,2050,2100],"format":"d","labelExpr":"indexof([1550,1650,2050,2100], datum.value) >= 0 ? '' : datum.label","grid":true,"gridColor":"#dadada","domain":true,"domainColor":"#999999","tickSize":4,"tickColor":"#999999","labelPadding":1,"labelFont":"DejaVu Sans","labelFontSize":11,"labelColor":"#000000"}}}},
   {"transform":[{"filter":"utcyear(datum.d) == 2015 && utcmonth(datum.d) == 5"}],
    "mark":{"type":"text","dx":10,"align":"left","baseline":"middle","font":"Liberation Sans","fontSize":11,"color":"#000000"},
    "encoding":{"y":{"field":"m2","type":"quantitative","scale":{"type":"log","domain":[1471.1,2263.4],"nice":false,"zero":false},
       "axis":{"orient":"right","title":null,"values":[1500,1550,1600,1650,1700,1750,1800,1850,1900,1950,2000,2050,2100],"format":"d","labelExpr":"indexof([1550,1650,2050,2100], datum.value) >= 0 ? '' : datum.label","grid":true,"gridColor":"#dadada","domain":true,"domainColor":"#999999","tickSize":4,"tickColor":"#999999","labelPadding":1,"labelFont":"DejaVu Sans","labelFontSize":11,"labelColor":"#000000"}},"text":{"field":"m2","type":"quantitative","format":".2f"}}}
 ]},
 {"mark":{"type":"point","opacity":0},
  "encoding":{"y":{"datum":30,"type":"quantitative","scale":{"domain":[-378,35.3333],"nice":false,"zero":false},
    "axis":{"orient":"right","title":null,"values":[-8.6667,10,30],"grid":true,"gridColor":{"condition":{"test":"datum.value < 0","value":"#9a9a9a"},"value":"#dadada"},"domain":false,"tickSize":4,"tickColor":"#999999","labelPadding":1,"labelFont":"DejaVu Sans","labelFontSize":11,"labelColor":"#000000","labelExpr":"datum.value < 0 ? '' : datum.label"}}}}
],
"resolve":{"scale":{"y":"independent","stroke":"independent","fill":"independent","color":"independent"},"axis":{"y":"independent"}}
}
